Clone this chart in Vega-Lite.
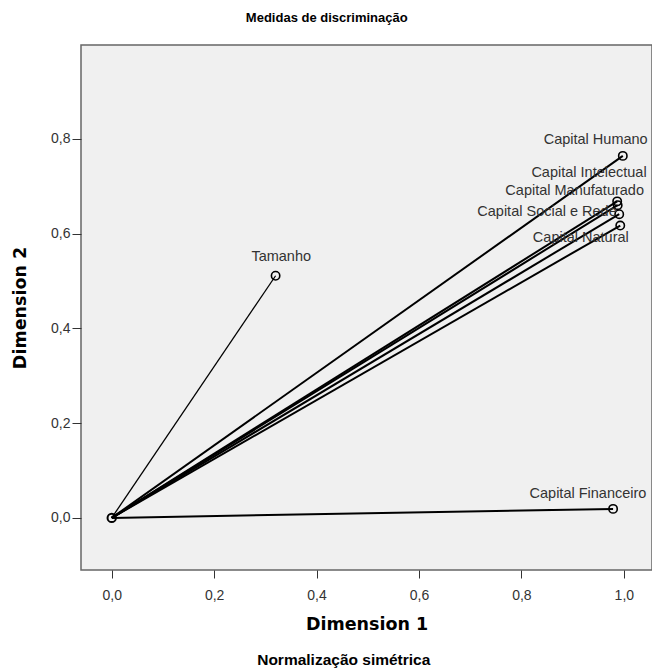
{
  "$schema": "https://vega.github.io/schema/vega-lite/v6.json",
  "autosize": {"type": "pad"},
  "padding": {"left": 10, "top": 12, "right": 0, "bottom": 0},
  "background": "white",
  "title": {
    "text": "Medidas de discriminação",
    "anchor": "middle",
    "frame": "bounds",
    "font": "Liberation Sans",
    "fontSize": 13,
    "fontWeight": "bold",
    "color": "#000000",
    "offset": 19,
    "dx": -5
  },
  "config": {
    "view": {"fill": "#f0f0f0", "stroke": "#666666", "strokeWidth": 1.5},
    "axis": {
      "grid": false,
      "domain": false,
      "tickColor": "#333333",
      "labelFont": "Liberation Sans",
      "labelFontSize": 14,
      "labelColor": "#333333",
      "titleFont": "DejaVu Sans",
      "titleFontSize": 17.5,
      "titleFontWeight": "bold",
      "titleColor": "#000000"
    }
  },
  "vconcat": [
    {
      "width": 571,
      "height": 525,
      "title": {
        "text": "Normalização simétrica",
        "orient": "bottom",
        "anchor": "middle",
        "frame": "bounds",
        "font": "Liberation Sans",
        "fontSize": 15.5,
        "fontWeight": "bold",
        "color": "#000000",
        "offset": 20,
        "dx": 12
      },
      "data": {
        "values": [
          {"name": "Capital Humano", "x": 0.998, "y": 0.764, "lx": 0.945, "ly": 0.797},
          {"name": "Capital Intelectual", "x": 0.987, "y": 0.668, "lx": 0.932, "ly": 0.727},
          {"name": "Capital Manufaturado", "x": 0.988, "y": 0.66, "lx": 0.904, "ly": 0.689},
          {"name": "Capital Social e Rede", "x": 0.991, "y": 0.641, "lx": 0.85, "ly": 0.645},
          {"name": "Capital Natural", "x": 0.993, "y": 0.617, "lx": 0.916, "ly": 0.59},
          {"name": "Tamanho", "x": 0.32, "y": 0.511, "lx": 0.331, "ly": 0.551},
          {"name": "Capital Financeiro", "x": 0.979, "y": 0.019, "lx": 0.93, "ly": 0.051}
        ]
      },
      "layer": [
        {
          "mark": {"type": "rule", "color": "#000000"},
          "encoding": {
            "x": {
              "field": "x",
              "type": "quantitative",
              "scale": {"domain": [-0.06, 1.055], "nice": false, "zero": false},
              "axis": {
                "values": [0, 0.2, 0.4, 0.6, 0.8, 1.0],
                "labelExpr": "replace(format(datum.value, '.1f'), '.', ',')",
                "tickSize": 8,
                "labelPadding": 10,
                "title": "Dimension 1",
                "titlePadding": 13
              }
            },
            "y": {
              "field": "y",
              "type": "quantitative",
              "scale": {"domain": [-0.11, 0.998], "nice": false, "zero": false},
              "axis": {
                "values": [0, 0.2, 0.4, 0.6, 0.8],
                "labelExpr": "replace(format(datum.value, '.1f'), '.', ',')",
                "tickSize": 9,
                "labelPadding": 2,
                "title": "Dimension 2",
                "titlePadding": 21
              }
            },
            "x2": {"datum": 0},
            "y2": {"datum": 0},
            "strokeWidth": {
              "condition": {"test": "datum.name === 'Tamanho'", "value": 1.3},
              "value": 2
            }
          }
        },
        {
          "mark": {"type": "point", "shape": "circle", "filled": false, "color": "#000000", "size": 70, "strokeWidth": 1.6, "opacity": 1},
          "encoding": {
            "x": {"field": "x", "type": "quantitative"},
            "y": {"field": "y", "type": "quantitative"}
          }
        },
        {
          "data": {"values": [{"x": 0, "y": 0}]},
          "mark": {"type": "point", "shape": "circle", "filled": false, "color": "#000000", "size": 70, "strokeWidth": 2, "opacity": 1},
          "encoding": {
            "x": {"field": "x", "type": "quantitative"},
            "y": {"field": "y", "type": "quantitative"}
          }
        },
        {
          "mark": {"type": "text", "font": "Liberation Sans", "fontSize": 14.5, "color": "#333333", "align": "center", "baseline": "middle"},
          "encoding": {
            "x": {"field": "lx", "type": "quantitative"},
            "y": {"field": "ly", "type": "quantitative"},
            "text": {"field": "name"}
          }
        }
      ]
    }
  ]
}
